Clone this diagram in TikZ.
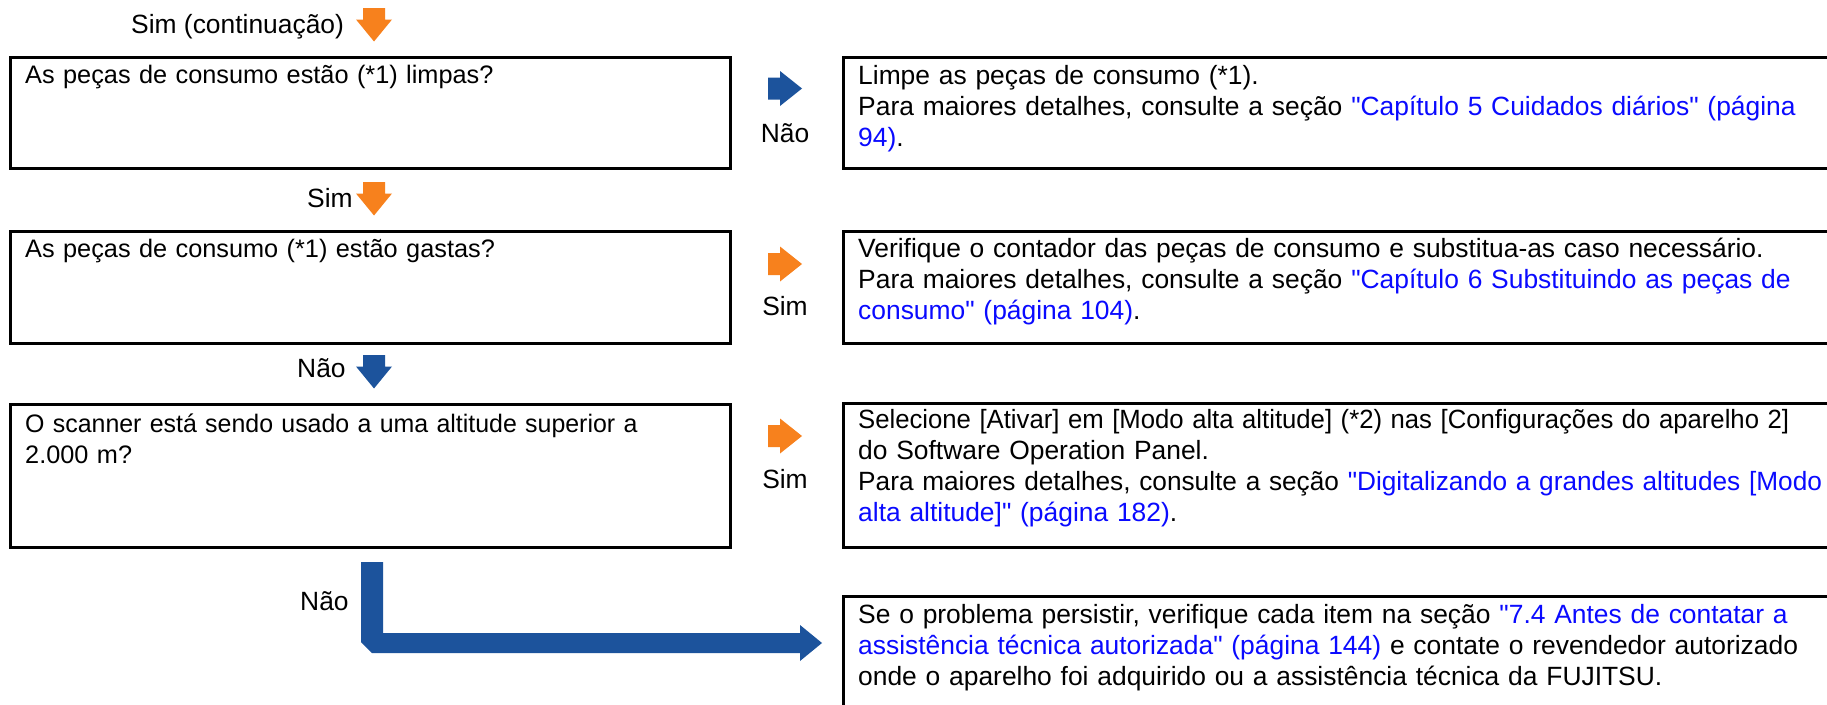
\documentclass[tikz,border=0pt]{standalone}
\usepackage{graphicx}
\usepackage{fontspec}
\setmainfont{Liberation Sans}[Ligatures=TeXOff]
\definecolor{arrorange}{RGB}{247,129,29}
\definecolor{arrblue}{RGB}{28,83,156}
\definecolor{linkblue}{RGB}{10,10,255}
\newcommand{\lnk}[1]{\textcolor{linkblue}{#1}}
\tikzset{
  box/.style={draw=black, line width=2.6pt, anchor=north west, inner sep=0pt, rectangle},
  txt/.style={anchor=base west, inner sep=0pt, align=left, text width=990pt, font=\fontsize{26.4}{31}\selectfont},
  qtxt/.style={txt, font=\fontsize{25.3}{31}\selectfont},
  lbl/.style={anchor=base, inner sep=0pt, font=\fontsize{26.4}{31}\selectfont},
  lblw/.style={anchor=base west, inner sep=0pt, font=\fontsize{26.4}{31}\selectfont},
  downarr/.pic={\fill[pic actions] (-11,0) -- (11,0) -- (11,11.5) -- (18,11.5) -- (0,33.5) -- (-18,11.5) -- (-11,11.5) -- cycle;},
  rightarr/.pic={\fill[pic actions] (0,-11) -- (12,-11) -- (12,-17.5) -- (34,0) -- (12,17.5) -- (12,11) -- (0,11) -- cycle;}
}
\begin{document}
\begin{tikzpicture}[x=1pt, y=-1pt]
\useasboundingbox[fill=white] (0,0) rectangle (1827,704);

% boxes
\node[box, minimum width=720pt, minimum height=111pt] (q1) at (9,56) {};
\node[box, minimum width=1000pt, minimum height=111pt] (a1) at (842,56) {};
\node[box, minimum width=720pt, minimum height=112pt] (q2) at (9,230) {};
\node[box, minimum width=1000pt, minimum height=112pt] (a2) at (842,230) {};
\node[box, minimum width=720pt, minimum height=143pt] (q3) at (9,403) {};
\node[box, minimum width=1000pt, minimum height=144pt] (a3) at (842,402) {};
\node[box, minimum width=1000pt, minimum height=140pt] (a4) at (842,595) {};

% texts
\node[qtxt] (t1) at (25,83) {As peças de consumo estão (*1) limpas?};
\node[qtxt] (t2) at (25,257) {As peças de consumo (*1) estão gastas?};
\node[qtxt] (t3) at (25,432) {\scalebox{0.985}[1]{O scanner está sendo usado a uma altitude superior a}\\2.000 m?};
\node[txt] (r1) at (858,84) {Limpe as peças de consumo (*1).\\Para maiores detalhes, consulte a seção \lnk{"Capítulo 5 Cuidados diários" (página}\\\lnk{94)}.};
\node[txt] (r2) at (858,257) {Verifique o contador das peças de consumo e substitua-as caso necessário.\\Para maiores detalhes, consulte a seção \lnk{"Capítulo 6 Substituindo as peças de}\\\lnk{consumo" (página 104)}.};
\node[txt] (r3) at (858,428) {\scalebox{0.973}[1]{Selecione [Ativar] em [Modo alta altitude] (*2) nas [Configurações do aparelho 2]}\\do Software Operation Panel.\\\scalebox{0.993}[1]{Para maiores detalhes, consulte a seção \lnk{"Digitalizando a grandes altitudes [Modo}}\\\lnk{alta altitude]" (página 182)}.};
\node[txt] (r4) at (858,623) {Se o problema persistir, verifique cada item na seção \lnk{"7.4 Antes de contatar a}\\\lnk{assistência técnica autorizada" (página 144)} e contate o revendedor autorizado\\onde o aparelho foi adquirido ou a assistência técnica da FUJITSU.};

% labels
\node[lblw] (l0) at (131,33) {Sim (continuação)};
\node[lblw] (l1) at (307,207) {Sim};
\node[lblw] (l2) at (297,377) {Não};
\node[lblw] (l3) at (300,610) {Não};
\node[lbl] (s1) at (785,142) {Não};
\node[lbl] (s2) at (785,315) {Sim};
\node[lbl] (s3) at (785,488) {Sim};

% small block arrows
\pic[fill=arrorange] at (374,8) {downarr};
\pic[fill=arrorange] at (374,182) {downarr};
\pic[fill=arrblue] at (374,355) {downarr};
\pic[fill=arrblue] at (768,88.5) {rightarr};
\pic[fill=arrorange] at (768,264) {rightarr};
\pic[fill=arrorange] at (768,436) {rightarr};

% big L arrow
\coordinate (ls) at (372,562);
\coordinate (le) at (822,643);
\fill[arrblue] (361,562) -- (383,562) -- (383,633) -- (800,633) -- (800,625) -- (le) -- (800,661) -- (800,653) -- (372,653) -- (361,642) -- cycle;
\end{tikzpicture}
\end{document}
